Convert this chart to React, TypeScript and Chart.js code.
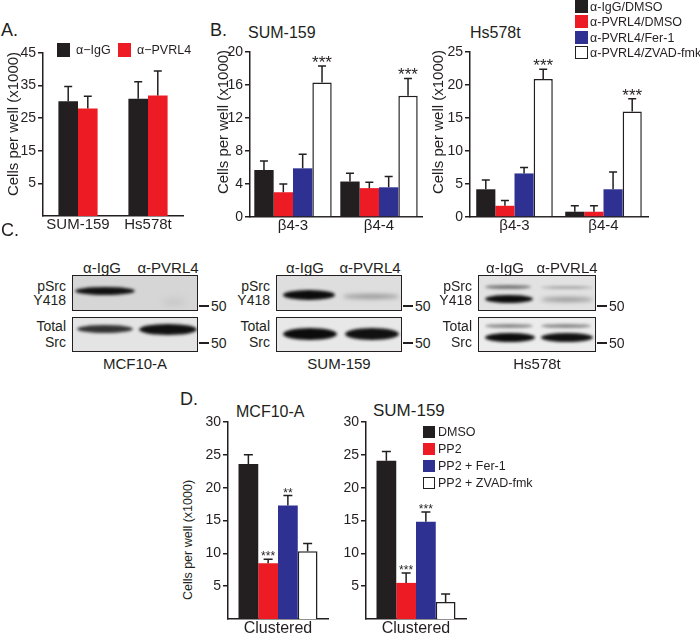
import React, { useEffect, useRef } from "react";
import { Chart, registerables } from "chart.js";
Chart.register(...registerables);

const FONT = "'Liberation Sans', Arial, Helvetica, sans-serif";
const BLACK = "#231f20";
const RED = "#ed1c24";
const BLUE = "#2e3192";
const WHITE = "#ffffff";

// ---------- Panel A ----------
const A_CATEGORIES = ["SUM-159", "Hs578t"];
const A_IGG = [30.2, 31.0];
const A_IGG_ERR = [34.7, 36.2];
const A_PVRL4 = [28.0, 32.0];
const A_PVRL4_ERR = [31.7, 39.5];
const A_TICKS = [5, 15, 25, 35, 45];

// ---------- Panel B ----------
const B_CATEGORIES = ["β4-3", "β4-4"];
const B_SUM_IGG = [5.7, 4.3];
const B_SUM_IGG_ERR = [6.8, 5.3];
const B_SUM_PVRL4 = [3.0, 3.5];
const B_SUM_PVRL4_ERR = [4.0, 4.2];
const B_SUM_FER = [5.9, 3.6];
const B_SUM_FER_ERR = [7.6, 4.9];
const B_SUM_ZVAD = [16.3, 14.7];
const B_SUM_ZVAD_ERR = [18.3, 16.8];
const B_SUM_TICKS = [0, 4, 8, 12, 16, 20];

const B_HS_IGG = [4.2, 0.8];
const B_HS_IGG_ERR = [5.6, 1.7];
const B_HS_PVRL4 = [1.7, 0.8];
const B_HS_PVRL4_ERR = [2.5, 1.7];
const B_HS_FER = [6.6, 4.2];
const B_HS_FER_ERR = [7.5, 6.8];
const B_HS_ZVAD = [20.9, 16.0];
const B_HS_ZVAD_ERR = [22.4, 17.9];
const B_HS_TICKS = [0, 5, 10, 15, 20, 25];
const B_ZVAD_STARS = ["***", "***"];
const B_LEGEND = ["α-IgG/DMSO", "α-PVRL4/DMSO", "α-PVRL4/Fer-1", "α-PVRL4/ZVAD-fmk"];

// ---------- Panel D ----------
const D_CATEGORIES = ["Clustered"];
const D_MCF_DMSO = [23.6];
const D_MCF_DMSO_ERR = [25.0];
const D_MCF_PP2 = [8.5];
const D_MCF_PP2_ERR = [9.1];
const D_MCF_FER = [17.3];
const D_MCF_FER_ERR = [18.8];
const D_MCF_ZVAD = [10.3];
const D_MCF_ZVAD_ERR = [11.5];
const D_MCF_PP2_STARS = ["***"];
const D_MCF_FER_STARS = ["**"];

const D_SUM_DMSO = [24.1];
const D_SUM_DMSO_ERR = [25.5];
const D_SUM_PP2 = [5.5];
const D_SUM_PP2_ERR = [7.0];
const D_SUM_FER = [14.8];
const D_SUM_FER_ERR = [16.3];
const D_SUM_ZVAD = [2.6];
const D_SUM_ZVAD_ERR = [3.8];
const D_SUM_PP2_STARS = ["***"];
const D_SUM_FER_STARS = ["***"];
const D_TICKS = [5, 10, 15, 20, 25, 30];
const D_LEGEND = ["DMSO", "PP2", "PP2 + Fer-1", "PP2 + ZVAD-fmk"];

type Series = { label: string; color: string; values: number[]; err: number[]; stars?: string[] };
type Area = { l: number; t: number; r: number; b: number };

type ChartProps = {
  area: Area;
  categories: string[];
  series: Series[];
  min: number;
  max: number;
  ticks: number[];
  base?: number;
  catPct: number;
  tickFont: number;
  catFont: number;
  starFont: number;
  starGap: number;
  capW: number;
};

function BarChart(p: ChartProps) {
  const ref = useRef<HTMLCanvasElement>(null);
  const Wy = 44, padT = 12, padR = 6, Hx = 24;
  const left = p.area.l - Wy;
  const top = p.area.t - padT;
  const width = p.area.r - p.area.l + Wy + padR;
  const height = p.area.b - p.area.t + padT + Hx;

  useEffect(() => {
    const errPlugin = {
      id: "errbars",
      afterDatasetsDraw(chart: any) {
        const ctx = chart.ctx;
        const ys = chart.scales.y;
        p.series.forEach((s, i) => {
          const meta = chart.getDatasetMeta(i);
          meta.data.forEach((bar: any, j: number) => {
            const bx = bar.x;
            const by = bar.y;
            const ey = ys.getPixelForValue(s.err[j]);
            ctx.save();
            ctx.strokeStyle = BLACK;
            ctx.lineWidth = 1.5;
            ctx.beginPath();
            ctx.moveTo(bx, by);
            ctx.lineTo(bx, ey);
            ctx.moveTo(bx - p.capW / 2, ey);
            ctx.lineTo(bx + p.capW / 2, ey);
            ctx.stroke();
            const st = s.stars ? s.stars[j] : "";
            if (st) {
              ctx.fillStyle = BLACK;
              ctx.font = `${p.starFont}px ${FONT}`;
              ctx.textAlign = "center";
              ctx.textBaseline = "alphabetic";
              ctx.fillText(st, bx, ey - p.starGap + 0.58 * p.starFont);
            }
            ctx.restore();
          });
        });
      },
    };
    const datasets = p.series.map((s) => {
      const d: any = {
        label: s.label,
        data: s.values,
        backgroundColor: s.color,
        borderColor: BLACK,
        borderWidth: s.color === WHITE ? 1.5 : 0,
        categoryPercentage: p.catPct,
        barPercentage: 1,
      };
      if (p.base !== undefined) d.base = p.base;
      return d;
    });
    const chart = new Chart(ref.current as HTMLCanvasElement, {
      type: "bar",
      data: { labels: p.categories, datasets },
      options: {
        responsive: false,
        animation: false,
        devicePixelRatio: 1,
        layout: { padding: { left: 0, top: padT, right: padR, bottom: 0 } },
        plugins: { legend: { display: false }, tooltip: { enabled: false }, title: { display: false } },
        scales: {
          x: {
            grid: { display: false, drawTicks: false, tickLength: 0 },
            border: { display: true, color: BLACK, width: 1.5 },
            ticks: { color: BLACK, font: { family: FONT, size: p.catFont }, padding: 0, maxRotation: 0 },
            afterFit: (s: any) => {
              s.height = Hx;
            },
          },
          y: {
            min: p.min,
            max: p.max,
            grid: { display: true, drawOnChartArea: false, drawTicks: true, tickLength: 5, color: BLACK, lineWidth: 1.5 },
            border: { display: true, color: BLACK, width: 1.5 },
            ticks: { color: BLACK, font: { family: FONT, size: p.tickFont }, padding: 2 },
            afterBuildTicks: (s: any) => {
              s.ticks = p.ticks.map((v) => ({ value: v }));
            },
            afterFit: (s: any) => {
              s.width = Wy;
            },
          },
        },
      } as any,
      plugins: [errPlugin],
    });
    return () => chart.destroy();
  }, []);

  return (
    <canvas
      ref={ref}
      width={width}
      height={height}
      style={{ position: "absolute", left, top, width, height }}
    />
  );
}

function Txt(props: { x: number; y: number; size: number; children: React.ReactNode; align?: "left" | "center" | "right" }) {
  const { x, y, size, align = "left" } = props;
  const tx = align === "left" ? "0" : align === "center" ? "-50%" : "-100%";
  return (
    <div
      style={{
        position: "absolute",
        left: x,
        top: y,
        fontSize: size,
        lineHeight: 1,
        whiteSpace: "nowrap",
        color: BLACK,
        transform: `translate(${tx}, -50%)`,
      }}
    >
      {props.children}
    </div>
  );
}

function VLabel(props: { x: number; y: number; size: number; text: string }) {
  return (
    <div
      style={{
        position: "absolute",
        left: props.x,
        top: props.y,
        fontSize: props.size,
        lineHeight: 1,
        whiteSpace: "nowrap",
        color: BLACK,
        transform: "translate(-50%, -50%) rotate(-90deg)",
      }}
    >
      {props.text}
    </div>
  );
}

function Swatch(props: { x: number; y: number; w: number; h: number; color: string }) {
  return (
    <div
      style={{
        position: "absolute",
        left: props.x,
        top: props.y,
        width: props.w,
        height: props.h,
        boxSizing: "border-box",
        background: props.color,
        border: props.color === WHITE ? `1.5px solid ${BLACK}` : "none",
      }}
    />
  );
}

type Band = { x: number; y: number; w: number; h: number; c: string; blur?: number };

function BlotBox(props: { x: number; y: number; w: number; h: number; bg: string; bands: Band[] }) {
  return (
    <div
      style={{
        position: "absolute",
        left: props.x,
        top: props.y,
        width: props.w,
        height: props.h,
        boxSizing: "border-box",
        border: `1.5px solid ${BLACK}`,
        background: props.bg,
        overflow: "hidden",
      }}
    >
      {props.bands.map((b, i) => (
        <div
          key={i}
          style={{
            position: "absolute",
            left: b.x,
            top: b.y - b.h / 2,
            width: b.w,
            height: b.h,
            background: b.c,
            borderRadius: "50%",
            filter: `blur(${b.blur ?? 1.5}px)`,
          }}
        />
      ))}
    </div>
  );
}

function Blot(props: {
  x: number;
  w: number;
  name: string;
  lane1: number;
  lane2: number;
  pBg: string;
  tBg: string;
  pBands: Band[];
  tBands: Band[];
}) {
  const { x, w } = props;
  const pTop = 275, pH = 36, tTop = 317, tH = 35;
  return (
    <>
      <Txt x={props.lane1} y={267} size={15} align="center">α-IgG</Txt>
      <Txt x={props.lane2} y={267} size={15} align="center">α-PVRL4</Txt>
      <Txt x={x - 6} y={286} size={14} align="right">pSrc</Txt>
      <Txt x={x - 6} y={300} size={14} align="right">Y418</Txt>
      <Txt x={x - 6} y={326} size={14} align="right">Total</Txt>
      <Txt x={x - 6} y={342} size={14} align="right">Src</Txt>
      <BlotBox x={x} y={pTop} w={w} h={pH} bg={props.pBg} bands={props.pBands} />
      <BlotBox x={x} y={tTop} w={w} h={tH} bg={props.tBg} bands={props.tBands} />
      <div style={{ position: "absolute", left: x + w + 1, top: 305, width: 10, height: 1.5, background: BLACK }} />
      <div style={{ position: "absolute", left: x + w + 1, top: 342, width: 10, height: 1.5, background: BLACK }} />
      <Txt x={x + w + 13} y={306} size={14}>50</Txt>
      <Txt x={x + w + 13} y={343} size={14}>50</Txt>
      <Txt x={x + w / 2} y={363} size={15} align="center">{props.name}</Txt>
    </>
  );
}

export default function App() {
  const aSeries: Series[] = [
    { label: "α−IgG", color: BLACK, values: A_IGG, err: A_IGG_ERR },
    { label: "α−PVRL4", color: RED, values: A_PVRL4, err: A_PVRL4_ERR },
  ];
  const bSum: Series[] = [
    { label: B_LEGEND[0], color: BLACK, values: B_SUM_IGG, err: B_SUM_IGG_ERR },
    { label: B_LEGEND[1], color: RED, values: B_SUM_PVRL4, err: B_SUM_PVRL4_ERR },
    { label: B_LEGEND[2], color: BLUE, values: B_SUM_FER, err: B_SUM_FER_ERR },
    { label: B_LEGEND[3], color: WHITE, values: B_SUM_ZVAD, err: B_SUM_ZVAD_ERR, stars: B_ZVAD_STARS },
  ];
  const bHs: Series[] = [
    { label: B_LEGEND[0], color: BLACK, values: B_HS_IGG, err: B_HS_IGG_ERR },
    { label: B_LEGEND[1], color: RED, values: B_HS_PVRL4, err: B_HS_PVRL4_ERR },
    { label: B_LEGEND[2], color: BLUE, values: B_HS_FER, err: B_HS_FER_ERR },
    { label: B_LEGEND[3], color: WHITE, values: B_HS_ZVAD, err: B_HS_ZVAD_ERR, stars: B_ZVAD_STARS },
  ];
  const dMcf: Series[] = [
    { label: D_LEGEND[0], color: BLACK, values: D_MCF_DMSO, err: D_MCF_DMSO_ERR },
    { label: D_LEGEND[1], color: RED, values: D_MCF_PP2, err: D_MCF_PP2_ERR, stars: D_MCF_PP2_STARS },
    { label: D_LEGEND[2], color: BLUE, values: D_MCF_FER, err: D_MCF_FER_ERR, stars: D_MCF_FER_STARS },
    { label: D_LEGEND[3], color: WHITE, values: D_MCF_ZVAD, err: D_MCF_ZVAD_ERR },
  ];
  const dSum: Series[] = [
    { label: D_LEGEND[0], color: BLACK, values: D_SUM_DMSO, err: D_SUM_DMSO_ERR },
    { label: D_LEGEND[1], color: RED, values: D_SUM_PP2, err: D_SUM_PP2_ERR, stars: D_SUM_PP2_STARS },
    { label: D_LEGEND[2], color: BLUE, values: D_SUM_FER, err: D_SUM_FER_ERR, stars: D_SUM_FER_STARS },
    { label: D_LEGEND[3], color: WHITE, values: D_SUM_ZVAD, err: D_SUM_ZVAD_ERR },
  ];
  const legendColors = [BLACK, RED, BLUE, WHITE];

  return (
    <div
      style={{
        position: "absolute",
        left: 0,
        top: 0,
        width: 700,
        height: 634,
        background: "#fff",
        overflow: "hidden",
        fontFamily: FONT,
        color: BLACK,
      }}
    >
      {/* Panel A */}
      <BarChart
        area={{ l: 43, t: 53, r: 183, b: 216 }}
        categories={A_CATEGORIES}
        series={aSeries}
        min={-5}
        max={45}
        ticks={A_TICKS}
        base={-5}
        catPct={0.56}
        tickFont={14}
        catFont={15}
        starFont={16}
        starGap={8}
        capW={8}
      />
      <Txt x={1} y={30} size={18}>A.</Txt>
      <VLabel x={12} y={124} size={15} text="Cells per well (x1000)" />
      <Swatch x={57} y={43} w={13} h={14} color={BLACK} />
      <Txt x={76} y={50} size={12.5}>α−IgG</Txt>
      <Swatch x={118} y={43} w={13} h={14} color={RED} />
      <Txt x={137} y={50} size={12.5}>α−PVRL4</Txt>

      {/* Panel B */}
      <Txt x={210} y={30} size={18}>B.</Txt>
      <Txt x={248} y={33} size={16}>SUM-159</Txt>
      <VLabel x={222} y={122} size={15} text="Cells per well (x1000)" />
      <BarChart
        area={{ l: 250, t: 52, r: 422, b: 217 }}
        categories={B_CATEGORIES}
        series={bSum}
        min={0}
        max={20}
        ticks={B_SUM_TICKS}
        catPct={0.9}
        tickFont={14}
        catFont={15}
        starFont={17}
        starGap={8}
        capW={8}
      />
      <Txt x={470} y={33} size={16}>Hs578t</Txt>
      <VLabel x={437} y={122} size={15} text="Cells per well (x1000)" />
      <BarChart
        area={{ l: 470, t: 52, r: 648, b: 217 }}
        categories={B_CATEGORIES}
        series={bHs}
        min={0}
        max={25}
        ticks={B_HS_TICKS}
        catPct={0.86}
        tickFont={14}
        catFont={15}
        starFont={17}
        starGap={8}
        capW={8}
      />
      {B_LEGEND.map((t, i) => (
        <React.Fragment key={t}>
          <Swatch x={575} y={i * 15.3} w={13} h={13} color={legendColors[i]} />
          <Txt x={590} y={i * 15.3 + 7} size={12.5}>{t}</Txt>
        </React.Fragment>
      ))}

      {/* Panel C */}
      <Txt x={1} y={230} size={18}>C.</Txt>
      <Blot
        x={72}
        w={126}
        name="MCF10-A"
        lane1={102}
        lane2={168}
        pBg="#d6d6d6"
        tBg="#e4e4e4"
        pBands={[
          { x: 2, y: 15, w: 60, h: 8, c: "#111", blur: 1.5 },
          { x: 90, y: 26, w: 22, h: 8, c: "#c8c8c8", blur: 3 },
        ]}
        tBands={[
          { x: 4, y: 11, w: 56, h: 8, c: "#333", blur: 1.5 },
          { x: 66, y: 11, w: 58, h: 11, c: "#111", blur: 1.5 },
        ]}
      />
      <Blot
        x={276}
        w={126}
        name="SUM-159"
        lane1={305}
        lane2={370}
        pBg="#dedede"
        tBg="#e8e8e8"
        pBands={[
          { x: 6, y: 19, w: 52, h: 10, c: "#0c0c0c", blur: 1.5 },
          { x: 66, y: 20, w: 56, h: 5, c: "#9a9a9a", blur: 2 },
        ]}
        tBands={[
          { x: 6, y: 16, w: 54, h: 12, c: "#0c0c0c", blur: 1.5 },
          { x: 68, y: 16, w: 54, h: 12, c: "#111", blur: 1.5 },
        ]}
      />
      <Blot
        x={478}
        w={118}
        name="Hs578t"
        lane1={505}
        lane2={567}
        pBg="#e2e2e2"
        tBg="#ececec"
        pBands={[
          { x: 6, y: 11, w: 46, h: 4, c: "#777", blur: 1.5 },
          { x: 6, y: 23, w: 48, h: 8, c: "#0c0c0c", blur: 1.5 },
          { x: 62, y: 11, w: 52, h: 3, c: "#aaa", blur: 1.5 },
          { x: 62, y: 23, w: 52, h: 5, c: "#9a9a9a", blur: 2 },
        ]}
        tBands={[
          { x: 6, y: 8, w: 48, h: 4, c: "#888", blur: 1.5 },
          { x: 62, y: 8, w: 50, h: 4, c: "#888", blur: 1.5 },
          { x: 6, y: 19, w: 50, h: 9, c: "#0c0c0c", blur: 1.5 },
          { x: 62, y: 19, w: 52, h: 9, c: "#111", blur: 1.5 },
        ]}
      />

      {/* Panel D */}
      <Txt x={180} y={399} size={18}>D.</Txt>
      <Txt x={236} y={412} size={16}>MCF10-A</Txt>
      <VLabel x={188} y={540} size={12.5} text="Cells per well (x1000)" />
      <BarChart
        area={{ l: 228, t: 422, r: 328, b: 619 }}
        categories={D_CATEGORIES}
        series={dMcf}
        min={0}
        max={30}
        ticks={D_TICKS}
        catPct={0.79}
        tickFont={14}
        catFont={16}
        starFont={12}
        starGap={6}
        capW={9}
      />
      <Txt x={373} y={410} size={17}>SUM-159</Txt>
      <BarChart
        area={{ l: 366, t: 422, r: 466, b: 619 }}
        categories={D_CATEGORIES}
        series={dSum}
        min={0}
        max={30}
        ticks={D_TICKS}
        catPct={0.79}
        tickFont={14}
        catFont={16}
        starFont={12}
        starGap={6}
        capW={9}
      />
      {D_LEGEND.map((t, i) => (
        <React.Fragment key={t}>
          <Swatch x={423} y={426 + i * 17} w={12} h={12} color={legendColors[i]} />
          <Txt x={438} y={432 + i * 17} size={12.5}>{t}</Txt>
        </React.Fragment>
      ))}
    </div>
  );
}
